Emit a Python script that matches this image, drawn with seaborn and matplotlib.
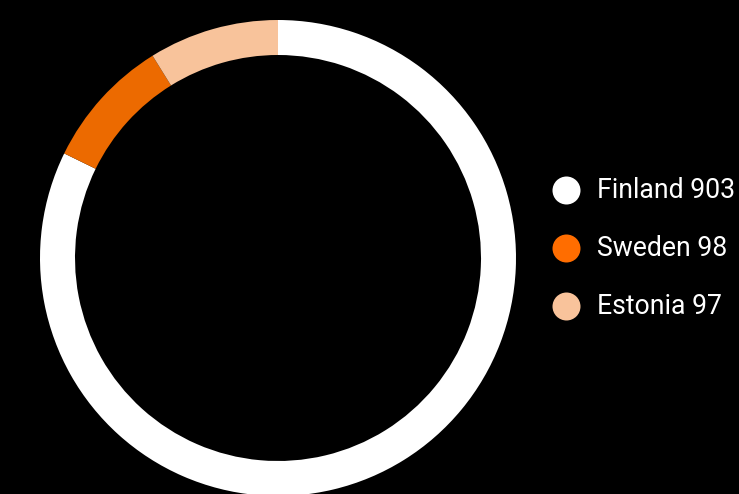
import matplotlib
matplotlib.use("Agg")
import matplotlib.pyplot as plt
import seaborn as sns

countries = ["Finland", "Sweden", "Estonia"]
counts = [903, 98, 97]
ring_colors = ["#FFFFFF", "#EC6A00", "#F8C39B"]
legend_colors = ["#FFFFFF", "#FF6D00", "#F9C39B"]

sns.set_theme(style="dark")
plt.rcParams["font.family"] = ["Roboto", "DejaVu Sans"]

W, H = 739, 494
fig = plt.figure(figsize=(W / 100, H / 100), dpi=100, facecolor="black")

# donut: centre (278, 258) px, outer radius 238 px, ring width 35 px
cx, cy, r = 278, 258, 238
ax = fig.add_axes([(cx - r) / W, (H - cy - r) / H, 2 * r / W, 2 * r / H])
ax.set_facecolor("black")
ax.pie(counts, colors=ring_colors, startangle=90, counterclock=False,
       radius=1.0, wedgeprops=dict(width=35 / r, linewidth=0))
ax.set_xlim(-1, 1)
ax.set_ylim(-1, 1)
ax.set_aspect("equal")
ax.axis("off")

# legend drawn on a pixel-space overlay
lax = fig.add_axes([0, 0, 1, 1], facecolor="none")
lax.set_xlim(0, W)
lax.set_ylim(H, 0)
lax.axis("off")
rows_y = [190, 248, 306]
for name, val, col, y in zip(countries, counts, legend_colors, rows_y):
    lax.scatter([566], [y], s=(28 * 0.72) ** 2, color=col, linewidths=0)
    lax.text(597, y, f"{name} {val}", color="white", fontsize=19.2,
             va="center", ha="left")

fig.savefig("out.png", dpi=100, facecolor="black")
